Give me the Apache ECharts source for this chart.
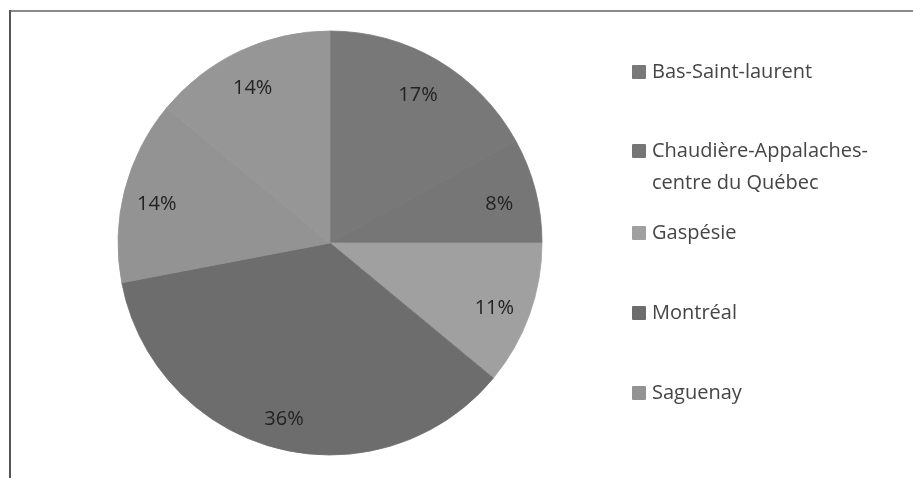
<!DOCTYPE html>
<html>
<head>
<meta charset="utf-8">
<script src="https://cdn.jsdelivr.net/npm/echarts@6/dist/echarts.min.js"></script>
<style>
html,body{margin:0;padding:0;background:#fff;}
#chart{width:913px;height:478px;}
</style>
</head>
<body>
<div id="chart"></div>
<script>
var categories = ['Bas-Saint-laurent', 'Chaudière-Appalaches-centre du Québec', 'Gaspésie', 'Montréal', 'Saguenay', 'Autre'];
var values = [17, 8, 11, 36, 14, 14];
var legendNames = ['Bas-Saint-laurent', 'Chaudière-Appalaches-centre du Québec', 'Gaspésie', 'Montréal', 'Saguenay'];
var colors = ['#787878', '#767676', '#a0a0a0', '#6d6d6d', '#939393', '#969696'];

var chart = echarts.init(document.getElementById('chart'), null, {renderer: 'canvas'});
var FONT = 'Open Sans';
var CX = 330, CY = 243, R = 212;

var pieData = categories.map(function (c, i) {
  return {name: c, value: values[i], itemStyle: {color: colors[i], borderColor: colors[i], borderWidth: 0.8}};
});
var labelData = categories.map(function (c, i) {
  return {name: c, value: values[i], itemStyle: {color: 'rgba(0,0,0,0)'}};
});

var legendTops = [56, 103, 217, 297, 377];
var legends = legendNames.map(function (n, i) {
  return {
    data: [n],
    orient: 'vertical',
    left: 632,
    top: legendTops[i],
    padding: 0,
    itemWidth: 12,
    itemHeight: 12,
    itemGap: 0,
    selectedMode: false,
    icon: 'rect',
    formatter: function (name) {
      if (name.indexOf('Chaudière') === 0) {
        return ' \nChaudière-Appalaches-\ncentre du Québec';
      }
      return name;
    },
    textStyle: {fontFamily: FONT, fontSize: 20, color: '#454545', lineHeight: 32, padding: [0, 0, 0, 2]}
  };
});

chart.setOption({
  animation: false,
  color: colors,
  legend: legends,
  graphic: [
    {type: 'line', shape: {x1: 10, y1: 11, x2: 913, y2: 11}, style: {stroke: '#8a8a8a', lineWidth: 2}},
    {type: 'line', shape: {x1: 10, y1: 10, x2: 10, y2: 478}, style: {stroke: '#555', lineWidth: 2}}
  ],
  series: [
    {
      type: 'pie',
      center: [CX, CY],
      radius: [0, R],
      startAngle: 90,
      clockwise: true,
      silent: true,
      label: {show: false},
      labelLine: {show: false},
      data: pieData
    },
    {
      type: 'pie',
      center: [CX, CY],
      radius: [R * 0.64, R],
      startAngle: 90,
      clockwise: true,
      silent: true,
      label: {
        show: true,
        position: 'inside',
        formatter: function (p) { return p.value + '%'; },
        fontFamily: FONT,
        fontSize: 20,
        color: '#222',
        offset: [-2, 5]
      },
      labelLine: {show: false},
      itemStyle: {borderWidth: 0},
      data: labelData
    }
  ]
});
</script>
</body>
</html>
